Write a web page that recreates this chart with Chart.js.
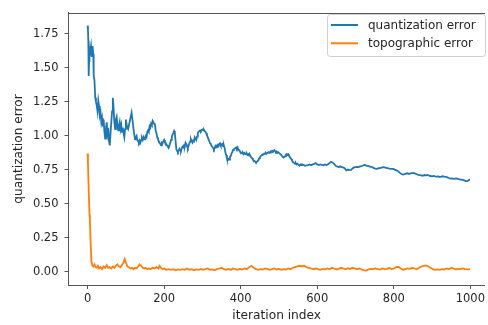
<!DOCTYPE html>
<html>
<head>
<meta charset="utf-8">
<script src="https://cdn.jsdelivr.net/npm/chart.js@4.4.1/dist/chart.umd.min.js"></script>
<style>
html,body{margin:0;padding:0;background:#fff;overflow:hidden;}
#wrap{width:488px;height:325px;position:relative;}
</style>
</head>
<body>
<div id="wrap"><canvas id="c" width="488" height="325"></canvas></div>
<script>
// ---- data ----
const seriesNames = ["quantization error", "topographic error"];
const quantIter = [0,1,2,3,4,5,7,9,11,13,15,16,18,20,22,24,26,28,30,32,34,36,38,40,42,44,46,48,50,52,54,56,58,60,62,64,66,68,70,72,74,76,78,80,82,84,86,88,90,92,94,96,98,100,103,106,109,112,115,118,121,
124,126,128,130,132,134,136,138,140,142,
144,146,148,150,152,154,156,158,160,162,
164,166,168,170,172,174,176,178,180,182,
184,186,188,190,192,194,196,198,200,202,
204,206,208,210,212,214,216,218,220,222,
224,226,228,230,232,234,236,238,240,242,
244,246,248,250,252,254,256,258,260,262,
264,266,268,270,272,274,276,278,280,282,
284,286,288,290,292,294,296,298,300,302,
304,306,308,310,312,314,316,318,320,322,
324,326,328,330,332,334,336,338,340,342,
344,346,348,350,352,354,356,358,360,362,
364,366,368,370,372,374,376,378,380,382,
384,386,388,390,392,394,396,398,400,402,
404,406,408,410,412,414,416,418,420,422,
424,426,428,430,432,434,436,438,440,442,
444,446,448,450,452,454,456,458,460,462,
464,466,468,470,472,474,476,478,480,482,
484,486,488,490,492,494,496,498,500,502,
504,506,508,510,512,514,516,518,520,522,
524,526,528,530,532,534,536,538,540,542,
544,546,548,550,552,554,556,558,
560,564,568,572,576,580,584,588,592,596,
600,604,608,612,616,620,624,628,632,636,
640,644,648,652,656,660,664,668,672,676,
680,684,688,692,696,700,704,708,712,716,
720,724,728,732,736,740,744,748,752,756,
760,764,768,772,776,780,784,788,792,796,
800,804,808,812,816,820,824,828,832,836,
840,844,848,852,856,860,864,868,872,876,
880,884,888,892,896,900,904,908,912,916,
920,924,928,932,936,940,944,948,952,956,
960,964,968,972,976,980,984,988,992,996,
999];
const quantErr = [1.81,1.78,1.70,1.44,1.55,1.66,1.62,1.66,1.58,1.66,1.60,1.44,1.41,1.28,1.25,1.22,1.18,1.26,1.22,1.15,1.17,1.10,1.13,1.07,1.12,1.03,0.98,1.05,1.10,1.02,1.06,0.96,0.93,1.02,1.10,1.18,1.28,1.20,1.10,1.05,1.12,1.14,1.08,1.04,1.07,1.10,1.05,1.08,1.03,1.06,1.02,0.99,1.05,1.12,1.07,1.05,1.09,1.13,1.17,1.10,1.03,
0.975,0.99,1.00,0.97,0.96,0.95,0.965,0.95,0.97,0.985,
0.97,0.99,0.975,0.985,1.00,0.99,1.03,1.04,1.03,1.07,
1.06,1.09,1.08,1.11,1.10,1.09,1.08,1.04,1.02,0.99,
0.975,0.96,0.95,0.94,0.93,0.95,0.945,0.96,0.97,0.955,
0.95,0.935,0.93,0.92,0.915,0.93,0.95,0.97,0.99,1.01,
1.02,1.035,1.02,0.96,0.90,0.89,0.88,0.89,0.905,0.895,
0.89,0.91,0.92,0.915,0.93,0.925,0.95,0.94,0.92,0.91,
0.93,0.945,0.96,0.975,0.96,0.95,0.965,0.96,0.99,0.98,
0.97,0.995,1.02,1.03,1.035,1.04,1.035,1.045,1.047,1.04,
1.045,1.035,1.03,1.02,1.005,0.99,0.975,0.96,0.945,0.94,
0.925,0.92,0.91,0.90,0.91,0.925,0.915,0.93,0.935,0.925,
0.94,0.945,0.93,0.935,0.94,0.925,0.93,0.91,0.88,0.86,
0.835,0.82,0.83,0.825,0.845,0.85,0.87,0.88,0.895,0.90,
0.905,0.91,0.915,0.905,0.915,0.90,0.895,0.885,0.88,0.875,
0.87,0.875,0.865,0.875,0.87,0.865,0.87,0.86,0.865,0.855,
0.86,0.85,0.84,0.835,0.825,0.82,0.815,0.81,0.805,0.807,
0.815,0.82,0.835,0.84,0.85,0.855,0.86,0.865,0.866,0.87,
0.868,0.875,0.87,0.875,0.88,0.875,0.879,0.885,0.88,0.89,
0.885,0.89,0.895,0.885,0.88,0.885,0.875,0.88,0.88,0.87,
0.865,0.86,0.85,0.845,0.84,0.845,0.85,0.86,0.866,0.86,
0.865,0.855,0.845,0.84,0.83,0.82,0.81,0.805,0.80,0.795,
0.80,0.79,0.795,0.79,0.785,0.783,0.79,0.785,
0.79,0.787,0.78,0.783,0.785,0.79,0.784,0.79,0.794,0.80,
0.79,0.785,0.79,0.786,0.783,0.79,0.785,0.79,0.80,0.81,
0.805,0.795,0.78,0.775,0.77,0.776,0.77,0.768,0.76,0.746,
0.752,0.748,0.75,0.76,0.768,0.77,0.772,0.77,0.776,0.778,
0.782,0.787,0.782,0.78,0.776,0.772,0.77,0.763,0.76,0.758,
0.762,0.763,0.766,0.77,0.768,0.765,0.762,0.76,0.758,0.757,
0.755,0.75,0.745,0.738,0.728,0.72,0.715,0.718,0.722,0.725,
0.72,0.724,0.726,0.727,0.722,0.718,0.714,0.712,0.71,0.707,
0.712,0.71,0.712,0.707,0.705,0.703,0.706,0.702,0.70,0.702,
0.698,0.70,0.703,0.70,0.698,0.695,0.69,0.686,0.688,0.684,
0.686,0.687,0.683,0.68,0.678,0.676,0.673,0.668,0.667,0.675,
0.679];
const topoIter = [0,1,3,5,6,8,10,12,15,18,21,24,27,30,34,38,42,46,50,54,58,62,66,70,74,78,82,86,90,94,97,100,104,108,112,116,120,124,128,132,136,140,144,148,152,156,160,165,170,175,180,185,188,192,196,200,206,212,218,224,230,236,242,248,254,260,266,272,278,284,290,296,302,308,314,320,326,332,338,344,350,356,362,368,374,380,386,392,398,404,410,416,422,428,434,440,446,452,458,464,470,476,482,488,494,500,506,512,518,524,530,536,542,548,554,560,566,572,578,584,590,596,602,608,614,620,626,632,638,644,650,656,662,668,674,680,686,692,698,704,710,716,722,728,734,740,746,752,758,764,770,776,782,788,794,800,806,812,818,824,830,836,842,848,854,860,866,872,878,884,890,896,902,908,914,920,926,932,938,944,950,956,962,968,974,980,986,992,999];
const topoErr = [0.87,0.80,0.60,0.42,0.39,0.22,0.08,0.05,0.04,0.055,0.035,0.03,0.045,0.025,0.035,0.02,0.04,0.03,0.05,0.03,0.035,0.025,0.04,0.03,0.045,0.055,0.04,0.035,0.05,0.07,0.095,0.07,0.04,0.035,0.025,0.03,0.02,0.03,0.025,0.04,0.055,0.045,0.03,0.025,0.03,0.02,0.025,0.02,0.03,0.025,0.035,0.025,0.045,0.03,0.02,0.025,0.015,0.02,0.015,0.02,0.012,0.018,0.015,0.02,0.015,0.025,0.015,0.02,0.012,0.018,0.015,0.022,0.015,0.02,0.025,0.015,0.018,0.012,0.02,0.025,0.03,0.02,0.015,0.022,0.015,0.025,0.02,0.015,0.022,0.018,0.025,0.02,0.035,0.045,0.03,0.02,0.015,0.02,0.018,0.025,0.02,0.015,0.02,0.025,0.018,0.022,0.015,0.02,0.018,0.025,0.02,0.03,0.035,0.04,0.045,0.04,0.045,0.035,0.03,0.025,0.02,0.025,0.02,0.015,0.022,0.018,0.025,0.02,0.03,0.025,0.018,0.022,0.03,0.025,0.02,0.028,0.022,0.03,0.025,0.02,0.025,0.018,0.012,0.01,0.018,0.022,0.02,0.025,0.02,0.018,0.025,0.02,0.022,0.03,0.02,0.025,0.035,0.038,0.025,0.015,0.02,0.025,0.022,0.03,0.025,0.02,0.03,0.04,0.045,0.048,0.04,0.03,0.02,0.015,0.018,0.015,0.02,0.018,0.025,0.02,0.03,0.025,0.018,0.022,0.02,0.025,0.02,0.018,0.02];
const xTickValues = [0,200,400,600,800,1000];
const yTickValues = [0,0.25,0.5,0.75,1.0,1.25,1.5,1.75];
const xTitle = "iteration index";
const yTitle = "quantization error";

// ---- styling ----
const colors = ["#1f77b4", "#ff7f0e"];
const FONT = "'DejaVu Sans', sans-serif";
const TXT = "#262626";
const SPINE = "#555555";

function toPoints(xs, ys){
  const n = Math.min(xs.length, ys.length);
  const out = [];
  for (let i = 0; i < n; i++) out.push({x: xs[i], y: ys[i]});
  return out;
}

const framePlugin = {
  id: 'frame',
  afterDraw(chart){
    const {ctx, chartArea:a} = chart;
    ctx.save();
    ctx.strokeStyle = SPINE; ctx.lineWidth = 1;
    ctx.beginPath();
    ctx.moveTo(a.left, Math.round(a.top)+0.5);
    ctx.lineTo(a.right, Math.round(a.top)+0.5);
    ctx.stroke();
    // legend
    const bx = 327.5, by = 14.5, bw = 158, bh = 42, r = 3;
    ctx.fillStyle = "rgba(255,255,255,0.8)";
    ctx.strokeStyle = "#d0d0d0";
    ctx.beginPath();
    ctx.moveTo(bx+r,by); ctx.lineTo(bx+bw-r,by); ctx.arcTo(bx+bw,by,bx+bw,by+r,r);
    ctx.lineTo(bx+bw,by+bh-r); ctx.arcTo(bx+bw,by+bh,bx+bw-r,by+bh,r);
    ctx.lineTo(bx+r,by+bh); ctx.arcTo(bx,by+bh,bx,by+bh-r,r);
    ctx.lineTo(bx,by+r); ctx.arcTo(bx,by,bx+r,by,r);
    ctx.closePath(); ctx.fill(); ctx.stroke();
    ctx.font = "12px " + FONT;
    ctx.textBaseline = "middle";
    ctx.textAlign = "left";
    chart.data.datasets.forEach((ds,i)=>{
      const y = 25 + i*18.3;
      ctx.strokeStyle = ds.borderColor; ctx.lineWidth = 2;
      ctx.beginPath(); ctx.moveTo(331, y); ctx.lineTo(358, y); ctx.stroke();
      ctx.fillStyle = TXT;
      ctx.fillText(ds.label, 368, y+0.5);
    });
    ctx.restore();
  }
};

new Chart(document.getElementById('c'), {
  type: 'line',
  data: {
    datasets: [
      {label: seriesNames[0], data: toPoints(quantIter, quantErr), borderColor: colors[0], backgroundColor: colors[0], borderWidth: 1.8, pointRadius: 0, tension: 0, fill: false},
      {label: seriesNames[1], data: toPoints(topoIter, topoErr), borderColor: colors[1], backgroundColor: colors[1], borderWidth: 1.8, pointRadius: 0, tension: 0, fill: false}
    ]
  },
  options: {
    responsive: false,
    animation: false,
    devicePixelRatio: 1,
    layout: {padding: {top: 8, left: 0, right: 0, bottom: 0}, autoPadding: false},
    plugins: {legend: {display: false}, tooltip: {enabled: false}},
    scales: {
      x: {
        type: 'linear', min: -49.8, max: 1038.1,
        afterBuildTicks: s => { s.ticks = xTickValues.map(v=>({value:v})); },
        afterFit: s => { s.height = 40; },
        grid: {display: true, drawOnChartArea: false, drawTicks: true, tickLength: 4, color: SPINE, tickColor: SPINE},
        border: {display: true, color: SPINE, width: 1},
        ticks: {color: TXT, font: {family: FONT, size: 11.5}, padding: 3, maxRotation: 0, autoSkip: false, callback: v => String(v)},
        title: {display: true, text: xTitle, color: TXT, font: {family: FONT, size: 12.2}, padding: {top: 0, bottom: 2}}
      },
      y: {
        type: 'linear', min: -0.0962, max: 1.9038,
        afterBuildTicks: s => { s.ticks = yTickValues.map(v=>({value:v})); },
        afterFit: s => { s.width = 68.5; },
        grid: {display: true, drawOnChartArea: false, drawTicks: true, tickLength: 4, color: SPINE, tickColor: SPINE},
        border: {display: true, color: SPINE, width: 1},
        ticks: {color: TXT, font: {family: FONT, size: 11.5}, padding: 6, autoSkip: false, callback: v => Number(v).toFixed(2)},
        title: {display: true, text: yTitle, color: TXT, font: {family: FONT, size: 12.2}, padding: {top: 12, bottom: 0}}
      }
    }
  },
  plugins: [framePlugin]
});
</script>
</body>
</html>
